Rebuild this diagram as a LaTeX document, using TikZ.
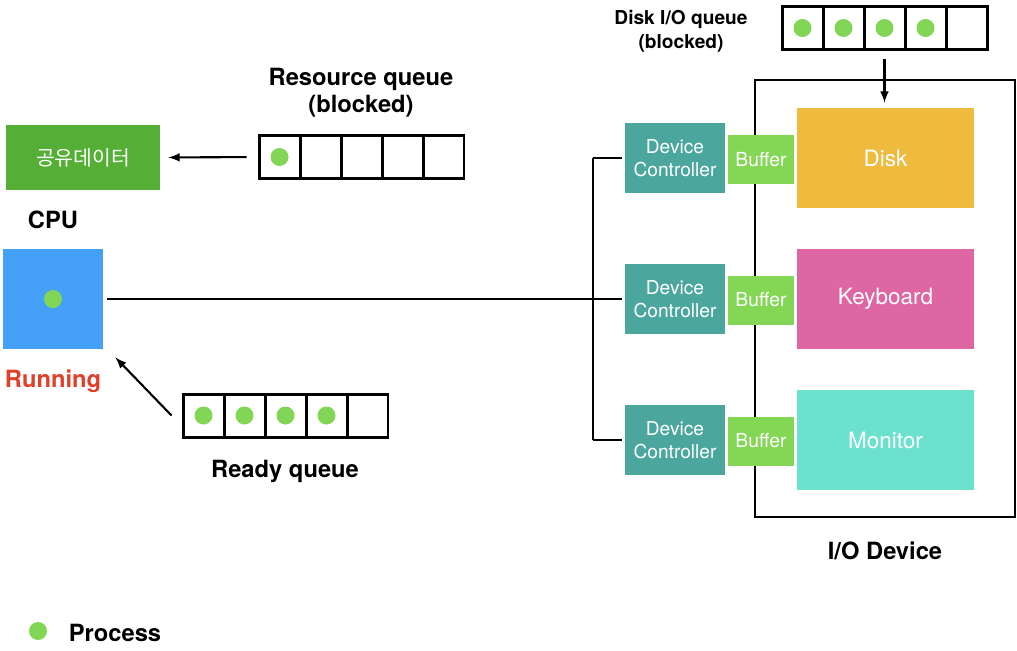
\documentclass[tikz,border=0pt]{standalone}
\usepackage{fontspec}
\setmainfont{TeX Gyre Heros}
\newfontfamily\cjk{Noto Sans CJK KR}
\usetikzlibrary{arrows,positioning,calc}

\definecolor{sharegreen}{RGB}{85,174,53}
\definecolor{cpublue}{RGB}{69,160,248}
\definecolor{procgreen}{RGB}{130,214,86}
\definecolor{runred}{RGB}{224,64,42}
\definecolor{ctrlteal}{RGB}{75,167,158}
\definecolor{bufgreen}{RGB}{132,214,85}
\definecolor{diskyellow}{RGB}{238,187,62}
\definecolor{keypink}{RGB}{221,102,163}
\definecolor{montur}{RGB}{108,226,206}

\begin{document}
\begin{tikzpicture}
    [ x=0.02cm, y=-0.02cm
    , box/.style={inner sep=0pt, text=white}
    , cell/.style={draw, line width=1.7pt, minimum width=0.82cm, minimum height=0.86cm, inner sep=0pt}
    , proc/.style={circle, fill=procgreen, minimum size=0.36cm, inner sep=0pt}
    , title/.style={font=\bfseries\fontsize{13.5}{15.3}\selectfont, align=center}
    , small title/.style={font=\bfseries\fontsize{10.9}{13.6}\selectfont, align=center}
    , ctrl/.style={box, fill=ctrlteal, minimum width=2cm, minimum height=1.4cm, align=center, font=\fontsize{10.9}{13}\selectfont}
    , buf/.style={box, fill=bufgreen, minimum width=1.32cm, minimum height=0.98cm, font=\fontsize{11}{13}\selectfont}
    , dev/.style={box, minimum width=3.54cm, minimum height=2cm, font=\fontsize{12.8}{15}\selectfont}
    , line/.style={line width=1.2pt}
    , arrow/.style={line, -latex}
    ]
  \useasboundingbox (0,0) rectangle (1017,650);

  % CPU side
  \node[box, fill=sharegreen, minimum width=3.08cm, minimum height=1.3cm, font=\cjk\fontsize{11.6}{13}\selectfont] (share) at (83,157.5) {공유데이터};
  \node[title] (cpulabel) at (53,220) {CPU};
  \node[box, fill=cpublue, minimum size=2cm] (cpu) at (53,299) {};
  \node[proc] (cpuproc) at (cpu) {};
  \node[title, text=runred] (running) at (53,381) {Running};

  % queues
  \foreach \i in {1,...,5} {
    \node[cell] (rq\i) at ({259+41*\i-20.5},157) {};
    \node[cell] (rdq\i) at ({183+41*\i-20.5},415.5) {};
    \node[cell] (dq\i) at ({782+41*\i-20.5},28) {};
  }
  \node[proc] at (rq1) {};
  \foreach \i in {1,...,4} {
    \node[proc] at (rdq\i) {};
    \node[proc] at (dq\i) {};
  }
  \node[title] (rqlabel) at (361,93) {Resource queue\\(blocked)};
  \node[title] (rdqlabel) at (285,471) {Ready queue};
  \node[small title] (dqlabel) at (681,31) {Disk I/O queue\\(blocked)};

  \draw[arrow, shorten <=0.22cm, shorten >=0.16cm] (rq1.west) -- (share.east);
  \draw[arrow] ([xshift=-0.2cm]rdq1.west) -- ([shift={(0.24cm,-0.16cm)}]cpu.south east);

  % I/O side
  \node[draw, line, minimum width=5.2cm, minimum height=8.74cm] (iobox) at (885,298.5) {};
  \node[title] (iolabel) at (885,551) {I/O Device};

  \node[dev, fill=diskyellow] (disk) at (885.5,158) {Disk};
  \node[dev, fill=keypink] (keyboard) at (885.5,299) {Keyboard};
  \node[dev, fill=montur] (monitor) at (885.5,440) {Monitor};

  \node[buf] (buf1) at (761,159.5) {Buffer};
  \node[buf] (buf2) at (761,300) {Buffer};
  \node[buf] (buf3) at (761,441) {Buffer};

  \node[ctrl] (dc1) at (675,158) {Device\\Controller};
  \node[ctrl] (dc2) at (675,299) {Device\\Controller};
  \node[ctrl] (dc3) at (675,440) {Device\\Controller};

  \draw[arrow, shorten <=0.16cm, shorten >=0.1cm] (dq3.south) -- (dq3.south |- disk.north);

  % bus
  \coordinate (bus) at (593,299);
  \draw[line] ([xshift=0.08cm]cpu.east) -- (bus);
  \draw[line] (dc1.west -| bus) -- (dc3.west -| bus);
  \foreach \n in {dc1,dc2,dc3}
    \draw[line] ([xshift=-0.06cm]\n.west) -- (\n.west -| bus);

  % legend
  \node[proc] (legdot) at (38,631) {};
  \node[title] (leglabel) at (115,633) {Process};
\end{tikzpicture}
\end{document}
